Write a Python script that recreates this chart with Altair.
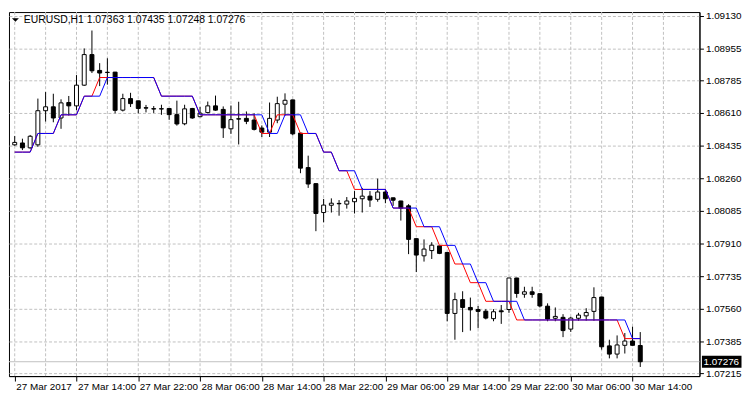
import altair as alt
import pandas as pd

symbol = "EURUSD"
timeframe = "H1"

time_labels = ["27 Mar 2017", "27 Mar 14:00", "27 Mar 22:00", "28 Mar 06:00", "28 Mar 14:00",
               "28 Mar 22:00", "29 Mar 06:00", "29 Mar 14:00", "29 Mar 22:00", "30 Mar 06:00",
               "30 Mar 14:00"]

opens = [1.08439, 1.08449, 1.08423, 1.08439, 1.08622, 1.08643, 1.08583, 1.08666, 1.08648, 1.08759,
         1.08923, 1.08838, 1.08828, 1.08829, 1.08625, 1.08687, 1.08675, 1.08638, 1.08633, 1.08631,
         1.08634, 1.08601, 1.08552, 1.08634, 1.08590, 1.08612, 1.08648, 1.08629, 1.08525, 1.08579,
         1.08581, 1.08572, 1.08529, 1.08507, 1.08572, 1.08657, 1.08680, 1.08502, 1.08317, 1.08231,
         1.08076, 1.08115, 1.08125, 1.08121, 1.08134, 1.08150, 1.08164, 1.08147, 1.08186, 1.08155,
         1.08138, 1.08112, 1.07936, 1.07844, 1.07872, 1.07897, 1.07862, 1.07535, 1.07609, 1.07567,
         1.07556, 1.07547, 1.07507, 1.07549, 1.07556, 1.07725, 1.07638, 1.07651, 1.07641, 1.07574,
         1.07509, 1.07514, 1.07451, 1.07509, 1.07522, 1.07546, 1.07623, 1.07361, 1.07317, 1.07364,
         1.07387, 1.07363]
highs = [1.08486, 1.08472, 1.08492, 1.08687, 1.08722, 1.08713, 1.08683, 1.08701, 1.08813, 1.08956,
         1.09052, 1.08877, 1.08903, 1.08830, 1.08713, 1.08718, 1.08676, 1.08653, 1.08647, 1.08654,
         1.08635, 1.08676, 1.08654, 1.08637, 1.08642, 1.08671, 1.08703, 1.08645, 1.08650, 1.08670,
         1.08618, 1.08608, 1.08543, 1.08666, 1.08697, 1.08715, 1.08681, 1.08503, 1.08381, 1.08232,
         1.08149, 1.08152, 1.08143, 1.08159, 1.08191, 1.08208, 1.08191, 1.08258, 1.08203, 1.08156,
         1.08139, 1.08121, 1.07937, 1.07932, 1.07917, 1.07898, 1.07863, 1.07646, 1.07654, 1.07620,
         1.07575, 1.07558, 1.07558, 1.07580, 1.07726, 1.07726, 1.07678, 1.07678, 1.07642, 1.07589,
         1.07567, 1.07531, 1.07517, 1.07538, 1.07563, 1.07675, 1.07624, 1.07394, 1.07417, 1.07430,
         1.07464, 1.07435]
lows = [1.08434, 1.08411, 1.08418, 1.08428, 1.08564, 1.08560, 1.08525, 1.08596, 1.08624, 1.08755,
        1.08824, 1.08754, 1.08762, 1.08608, 1.08618, 1.08642, 1.08608, 1.08613, 1.08610, 1.08600,
        1.08573, 1.08542, 1.08544, 1.08579, 1.08587, 1.08608, 1.08622, 1.08476, 1.08498, 1.08441,
        1.08550, 1.08516, 1.08481, 1.08481, 1.08555, 1.08596, 1.08490, 1.08287, 1.08208, 1.07976,
        1.08024, 1.08076, 1.08059, 1.08097, 1.08071, 1.08076, 1.08106, 1.08134, 1.08126, 1.08112,
        1.08033, 1.07853, 1.07757, 1.07813, 1.07827, 1.07853, 1.07493, 1.07394, 1.07435, 1.07443,
        1.07456, 1.07503, 1.07493, 1.07479, 1.07538, 1.07619, 1.07619, 1.07619, 1.07567, 1.07493,
        1.07493, 1.07408, 1.07436, 1.07496, 1.07496, 1.07496, 1.07341, 1.07294, 1.07294, 1.07320,
        1.07363, 1.07248]
closes = [1.08452, 1.08423, 1.08485, 1.08622, 1.08643, 1.08583, 1.08664, 1.08648, 1.08759, 1.08923,
          1.08836, 1.08824, 1.08827, 1.08624, 1.08687, 1.08660, 1.08634, 1.08636, 1.08631, 1.08633,
          1.08601, 1.08551, 1.08632, 1.08583, 1.08609, 1.08648, 1.08625, 1.08530, 1.08574, 1.08577,
          1.08565, 1.08522, 1.08507, 1.08581, 1.08660, 1.08678, 1.08498, 1.08314, 1.08229, 1.08071,
          1.08116, 1.08126, 1.08123, 1.08138, 1.08152, 1.08164, 1.08143, 1.08186, 1.08150, 1.08142,
          1.08100, 1.07932, 1.07848, 1.07880, 1.07901, 1.07857, 1.07535, 1.07609, 1.07567, 1.07554,
          1.07546, 1.07510, 1.07544, 1.07544, 1.07725, 1.07642, 1.07651, 1.07637, 1.07575, 1.07505,
          1.07519, 1.07443, 1.07510, 1.07526, 1.07540, 1.07620, 1.07356, 1.07317, 1.07366, 1.07387,
          1.07364, 1.07276]

blue_line = [1.0840, 1.0840, 1.0840, 1.0850, 1.0850, 1.0850, 1.0860, 1.0860, 1.0860, 1.0870,
             1.0870, 1.0870, 1.0880, 1.0880, 1.0880, 1.0880, 1.0880, 1.0880, 1.0880, 1.0870,
             1.0870, 1.0870, 1.0870, 1.0870, 1.0860, 1.0860, 1.0860, 1.0860, 1.0860, 1.0860,
             1.0860, 1.0860, 1.0860, 1.0850, 1.0850, 1.0860, 1.0860, 1.0860, 1.0850, 1.0850,
             1.0840, 1.0840, 1.0830, 1.0830, 1.0830, 1.0820, 1.0820, 1.0820, 1.0820, 1.0810,
             1.0810, 1.0810, 1.0810, 1.0800, 1.0800, 1.0800, 1.0790, 1.0790, 1.0780, 1.0780,
             1.0770, 1.0770, 1.0760, 1.0760, 1.0760, 1.0760, 1.0750, 1.0750, 1.0750, 1.0750,
             1.0750, 1.0750, 1.0750, 1.0750, 1.0750, 1.0750, 1.0750, 1.0750, 1.0750, 1.0750,
             1.0740, 1.0740]
red_line = [1.0840, 1.0840, 1.0840, 1.0850, 1.0850, 1.0850, 1.0860, 1.0860, 1.0860, 1.0870,
            1.0870, 1.0880, 1.0880, 1.0880, 1.0880, 1.0880, 1.0880, 1.0880, 1.0880, 1.0870,
            1.0870, 1.0870, 1.0870, 1.0870, 1.0860, 1.0860, 1.0860, 1.0860, 1.0860, 1.0860,
            1.0860, 1.0860, 1.0850, 1.0850, 1.0860, 1.0860, 1.0860, 1.0850, 1.0850, 1.0850,
            1.0840, 1.0840, 1.0830, 1.0830, 1.0820, 1.0820, 1.0820, 1.0820, 1.0820, 1.0810,
            1.0810, 1.0810, 1.0800, 1.0800, 1.0800, 1.0790, 1.0790, 1.0780, 1.0780, 1.0770,
            1.0770, 1.0760, 1.0760, 1.0760, 1.0760, 1.0750, 1.0750, 1.0750, 1.0750, 1.0750,
            1.0750, 1.0750, 1.0750, 1.0750, 1.0750, 1.0750, 1.0750, 1.0750, 1.0750, 1.0740,
            1.0740, 1.0740]

price_ticks = [1.09130, 1.08955, 1.08785, 1.08610, 1.08435, 1.08260, 1.08085, 1.07910,
               1.07735, 1.07560, 1.07385, 1.07215]
grid_bars = [0, 4, 8, 12, 16, 20, 24, 28, 32, 36, 40, 44, 48, 52, 56, 60, 64, 68, 72, 76, 80, 84]
label_bars = [0, 8, 16, 24, 32, 40, 48, 56, 64, 72, 80]

n = len(opens)
df = pd.DataFrame({
    "idx": list(range(n)), "o": opens, "h": highs, "l": lows, "c": closes,
    "blue": blue_line, "red": red_line,
})
df["dir"] = ["up" if c >= o else "down" for o, c in zip(opens, closes)]

W, H = 698, 368
FONT = "Liberation Sans"
x_scale = alt.Scale(domain=[-0.1, 88.025], nice=False, zero=False)
y_scale = alt.Scale(domain=[1.07199, 1.09151], nice=False, zero=False)

label_expr = "[" + ",".join("'" + s + "'" for s in time_labels) + "][round(datum.value / 8)]"

x_axis = alt.Axis(values=label_bars, labelExpr=label_expr, grid=False,
                  domain=True, domainColor="black", ticks=True, tickColor="black",
                  tickSize=5, labelAlign="left", labelBaseline="top",
                  labelPadding=1, labelOffset=1, labelFlush=False, labelOverlap=False,
                  labelFont=FONT, labelFontSize=10, labelColor="black", title=None)
y_axis = alt.Axis(orient="right", values=price_ticks, format=".5f", grid=True,
                  gridColor="#c0c0c0", gridDash=[3, 2], gridWidth=1,
                  domain=True, domainColor="black", ticks=True, tickColor="black",
                  tickSize=4, labelPadding=2, labelFont=FONT, labelFontSize=10,
                  labelColor="black", labelOverlap=False, labelFlush=False, title=None)

base = alt.Chart(df)

vgrid = alt.Chart(pd.DataFrame({"g": grid_bars})).mark_rule(
    color="#c0c0c0", strokeWidth=1, strokeDash=[3, 2]
).encode(x=alt.X("g:Q", scale=x_scale, axis=x_axis))

price_line = alt.Chart(pd.DataFrame({"p": [closes[-1]]})).mark_rule(
    color="#c0c0c0", strokeWidth=1
).encode(y=alt.Y("p:Q", scale=y_scale, axis=y_axis))

wicks = base.mark_rule(color="black", strokeWidth=1).encode(
    x=alt.X("idx:Q", scale=x_scale, axis=x_axis),
    y=alt.Y("l:Q", scale=y_scale, axis=y_axis),
    y2="h:Q",
)

bodies = base.mark_bar(width=4, stroke="black", strokeWidth=1).encode(
    x=alt.X("idx:Q", scale=x_scale, axis=x_axis),
    y=alt.Y("o:Q", scale=y_scale, axis=y_axis),
    y2="c:Q",
    color=alt.Color("dir:N", scale=alt.Scale(domain=["up", "down"], range=["white", "black"]),
                    legend=None),
)

red = base.mark_line(color="#ff0000", strokeWidth=1).encode(
    x=alt.X("idx:Q", scale=x_scale, axis=x_axis), y=alt.Y("red:Q", scale=y_scale, axis=y_axis)
)
blue = base.mark_line(color="#0000ff", strokeWidth=1).encode(
    x=alt.X("idx:Q", scale=x_scale, axis=x_axis), y=alt.Y("blue:Q", scale=y_scale, axis=y_axis)
)

header_text = symbol + "," + timeframe + "  " + " ".join(
    f"{v:.5f}" for v in [opens[-1], highs[-1], lows[-1], closes[-1]])
header = alt.Chart(pd.DataFrame({"t": [header_text]})).mark_text(
    align="left", baseline="middle", font=FONT, fontSize=10.5, color="black"
).encode(x=alt.value(15), y=alt.value(8), text="t:N")

tri = alt.Chart(pd.DataFrame({"a": [0]})).mark_point(
    shape="M-1,-0.5L1,-0.5L0,0.5Z", size=49, filled=True, color="black", opacity=1
).encode(x=alt.value(6.5), y=alt.value(8))

last = pd.DataFrame({"p": [closes[-1]], "t": [f"{closes[-1]:.5f}"]})
price_box = alt.Chart(last).mark_point(
    shape="M-1,-0.3L1,-0.3L1,0.3L-1,0.3Z", size=1600, filled=True, color="black", opacity=1
).encode(x=alt.value(W + 22.5), y=alt.Y("p:Q", scale=y_scale, axis=y_axis))
price_txt = alt.Chart(last).mark_text(
    align="left", baseline="middle", font=FONT, fontSize=10, color="white"
).encode(x=alt.value(W + 4), y=alt.Y("p:Q", scale=y_scale, axis=y_axis), text="t:N")

chart = alt.layer(
    vgrid, price_line, wicks, bodies, red, blue, header, tri, price_box, price_txt
).properties(width=W, height=H, padding=0, background="white").configure_view(
    stroke="black", strokeWidth=1
)

chart.save("out.html", embed_options={"renderer": "svg", "actions": False})
